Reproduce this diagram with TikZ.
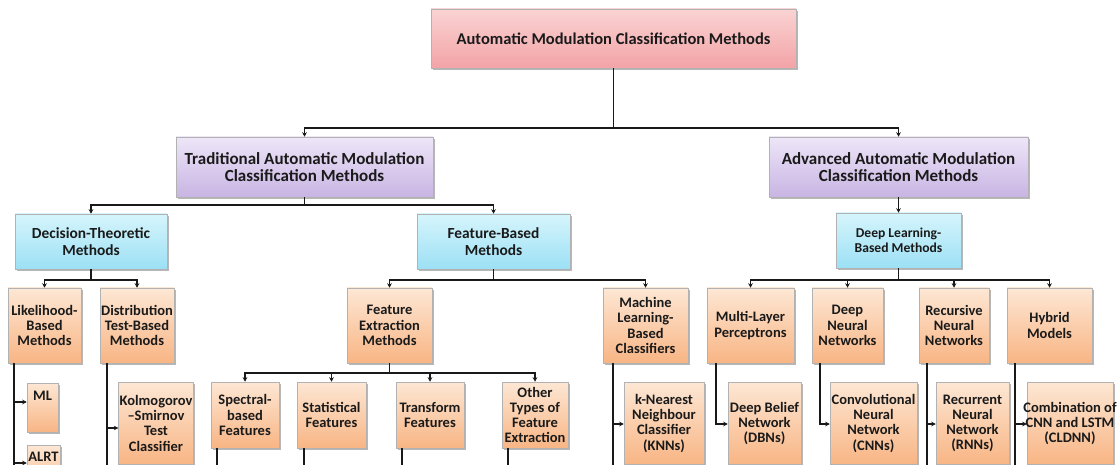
\documentclass[tikz,border=0pt]{standalone}
\usepackage{fontspec}
\setmainfont{Carlito}
\usetikzlibrary{shadows,arrows.meta}
\definecolor{pinkT}{HTML}{FAD3D3}
\definecolor{pinkB}{HTML}{F3A3A6}
\definecolor{purT}{HTML}{EEE6F8}
\definecolor{purB}{HTML}{C8B4E3}
\definecolor{cyanT}{HTML}{D6F5FC}
\definecolor{cyanB}{HTML}{9CE0F5}
\definecolor{orT}{HTML}{FDE7D4}
\definecolor{orB}{HTML}{F8B584}
\definecolor{txt}{HTML}{1A1A1A}
\tikzset{
  box/.style={draw=black!30, line width=0.5pt, align=center, text=txt, inner xsep=1pt, inner ysep=2pt,
    drop shadow={shadow xshift=1.6pt, shadow yshift=-1.9pt, opacity=0.4, fill=black!70}},
  rootbox/.style={box, top color=pinkT, bottom color=pinkB, font=\bfseries\fontsize{16.5}{17.5}\selectfont},
  pbox/.style={box, top color=purT, bottom color=purB, font=\bfseries\fontsize{17}{17.7}\selectfont},
  cbox/.style={box, top color=cyanT, bottom color=cyanB, font=\bfseries\fontsize{15.4}{16.4}\selectfont},
  obox/.style={box, top color=orT, bottom color=orB, font=\bfseries\fontsize{14.5}{15.2}\selectfont},
  ln/.style={line width=1.6pt, draw=black!90},
  arr/.style={ln, -{Stealth[length=4.5pt, width=4.5pt]}},
}
\begin{document}
\begin{tikzpicture}[x=1pt,y=-1pt]
\useasboundingbox (0,0) rectangle (1117,465);
\clip (0,0) rectangle (1117,465);
\fill[white] (0,0) rectangle (1117,465);

% level 0
\node[rootbox, minimum width=365, minimum height=59] (root) at (613.5,38.5) {Automatic Modulation Classification Methods};
% level 1
\node[pbox, minimum width=257, minimum height=60] (trad) at (304.5,167) {Traditional Automatic Modulation\\Classification Methods};
\node[pbox, minimum width=259, minimum height=60] (adv) at (898.5,167) {Advanced Automatic Modulation\\Classification Methods};
% level 2
\node[cbox, minimum width=152, minimum height=55] (dt) at (91,241.5) {Decision-Theoretic\\Methods};
\node[cbox, minimum width=153, minimum height=55] (fb) at (493.5,241.5) {Feature-Based\\Methods};
\node[cbox, minimum width=125, minimum height=55, font=\bfseries\fontsize{13.6}{15}\selectfont] (dl) at (898.5,240.5) {Deep Learning-\\Based Methods};
% level 3
\node[obox, minimum width=73, minimum height=75] (lik) at (44.5,325.5) {Likelihood-\\Based\\Methods};
\node[obox, minimum width=74, minimum height=75] (dist) at (137,325.5) {Distribution\\Test-Based\\Methods};
\node[obox, minimum width=85, minimum height=75] (fe) at (389.5,325.5) {Feature\\Extraction\\Methods};
\node[obox, minimum width=85, minimum height=75] (mlb) at (645.5,325.5) {Machine\\Learning-\\Based\\Classifiers};
\node[obox, minimum width=87, minimum height=75] (mlp) at (750.5,325.5) {Multi-Layer\\Perceptrons};
\node[obox, minimum width=71, minimum height=75] (dnn) at (847.5,325.5) {Deep\\Neural\\Networks};
\node[obox, minimum width=70, minimum height=75] (recnn) at (954,325.5) {Recursive\\Neural\\Networks};
\node[obox, minimum width=85, minimum height=75] (hyb) at (1049.5,325.5) {Hybrid\\Models};
% level 4 features
\node[obox, minimum width=68, minimum height=66] (spec) at (245,415) {Spectral-\\based\\Features};
\node[obox, minimum width=69, minimum height=66] (stat) at (331.5,415) {Statistical\\Features};
\node[obox, minimum width=68, minimum height=66] (trans) at (430,415) {Transform\\Features};
\node[obox, minimum width=66, minimum height=66] (other) at (535,415) {Other\\Types of\\Feature\\Extraction};
% level 4 others
\node[obox, anchor=north, minimum width=31, inner ysep=7pt, text height=10pt, text depth=25pt] (ml) at (42.5,383) {ML};
\node[obox, anchor=north, minimum width=33, inner ysep=6pt, text height=10pt, text depth=30pt] (alrt) at (43.5,445) {ALRT};
\node[obox, anchor=north, minimum width=74, minimum height=82] (ks) at (156,382) {Kolmogorov\\–Smirnov\\Test\\Classifier};
\node[obox, anchor=north, minimum width=80, minimum height=82] (knn) at (664,382) {k-Nearest\\Neighbour\\Classifier\\(KNNs)};
\node[obox, anchor=north, minimum width=73, minimum height=82] (dbn) at (764.5,382) {Deep Belief\\Network\\(DBNs)};
\node[obox, anchor=north, minimum width=87, minimum height=82] (cnn) at (873.5,382) {Convolutional\\Neural\\Network\\(CNNs)};
\node[obox, anchor=north, minimum width=73, minimum height=82] (rnn) at (972.5,382) {Recurrent\\Neural\\Network\\(RNNs)};
\node[obox, anchor=north, minimum width=86, minimum height=82] (cl) at (1070,382) {\makebox[0pt]{Combination of}\\\makebox[0pt]{CNN and LSTM}\\\makebox[0pt]{(CLDNN)}};

% junctions
\coordinate (j1) at (613.5,128);
\coordinate (j2) at (304.5,205);
\coordinate (j3) at (91,280);
\coordinate (j4) at (493.5,280);
\coordinate (j5) at (898.5,280);
\coordinate (j6) at (389.5,373);

\draw[ln] (root.south) -- (j1);
\draw[arr] (j1) -| (trad.north);
\draw[arr] (j1) -| (adv.north);

\draw[ln] (trad.south) -- (j2);
\draw[arr] (j2) -| (dt.north);
\draw[arr] (j2) -| (fb.north);

\draw[arr] (adv.south) -- (dl.north);

\draw[ln] (dt.south) -- (j3);
\draw[arr] (j3) -| (lik.north);
\draw[arr] (j3) -| (dist.north);

\draw[ln] (fb.south) -- (j4);
\draw[arr] (j4) -| (fe.north);
\draw[arr] (j4) -| (mlb.north);

\draw[ln] (dl.south) -- (j5);
\draw[arr] (j5) -| (mlp.north);
\draw[arr] (j5) -| (dnn.north);
\draw[arr] (j5) -| (recnn.north);
\draw[arr] (j5) -| (hyb.north);

\draw[ln] (fe.south) -- (j6);
\draw[arr] (j6) -| (spec.north);
\draw[arr] (j6) -| (stat.north);
\draw[arr] (j6) -| (trans.north);
\draw[arr] (j6) -| (other.north);

% trunks
\coordinate (tlik) at (14,480);
\coordinate (aml) at (14,402);
\coordinate (aalrt) at (14,463);
\draw[ln] (lik.south -| tlik) -- (tlik);
\draw[arr] (aml) -- (aml -| ml.west);
\draw[arr] (aalrt) -- (aalrt -| alrt.west);

\coordinate (tdist) at (107,480);
\coordinate (aks) at (107,428);
\draw[ln] (dist.south -| tdist) -- (tdist);
\draw[arr] (aks) -- (aks -| ks.west);

\coordinate (tmlb) at (613,480);
\coordinate (aknn) at (613,424);
\draw[ln] (mlb.south -| tmlb) -- (tmlb);
\draw[arr] (aknn) -- (aknn -| knn.west);

\coordinate (admlp) at (716,424);
\draw[arr] (mlp.south -| admlp) -- (admlp) -- (admlp -| dbn.west);

\coordinate (adnn) at (820,424);
\draw[arr] (dnn.south -| adnn) -- (adnn) -- (adnn -| cnn.west);

\coordinate (trec) at (927,480);
\coordinate (arnn) at (927,424);
\draw[ln] (recnn.south -| trec) -- (trec);
\draw[arr] (arnn) -- (arnn -| rnn.west);

\coordinate (thyb) at (1015,480);
\coordinate (acl) at (1015,424);
\draw[ln] (hyb.south -| thyb) -- (thyb);
\draw[arr] (acl) -- (acl -| cl.west);

\coordinate (tspec) at (217,480);
\coordinate (tstat) at (304,480);
\coordinate (ttrans) at (402,480);
\coordinate (tother) at (508,480);
\draw[ln] (spec.south -| tspec) -- (tspec);
\draw[ln] (stat.south -| tstat) -- (tstat);
\draw[ln] (trans.south -| ttrans) -- (ttrans);
\draw[ln] (other.south -| tother) -- (tother);
\end{tikzpicture}
\end{document}
